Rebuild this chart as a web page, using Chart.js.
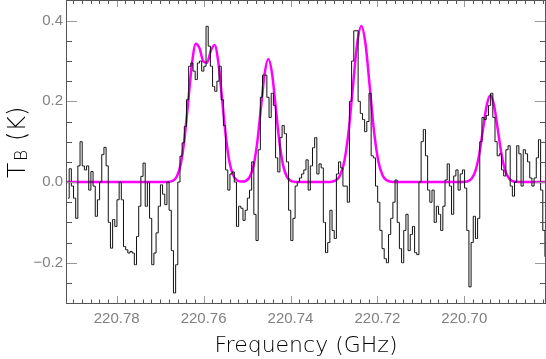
<!DOCTYPE html>
<html><head><meta charset="utf-8">
<script src="https://cdn.jsdelivr.net/npm/chart.js@4"></script>
<style>html,body{margin:0;padding:0;background:#fff}canvas{display:block}</style>
</head><body>
<canvas id="c" width="546" height="359"></canvas>
<script>
// ---- data ----
const startFreq = 220.79119;      // GHz, centre of first channel
const channelWidth = 0.0005;      // GHz per channel (frequency decreases)
const spectrumTB = [
 -0.04, 0.033, -0.01, -0.04, -0.09, 0.04, 0.10, 0.04, 0.03, 0.04,
 -0.02, 0.026, -0.01, -0.085, -0.044, 0.0, 0.068, 0.086, 0.04, -0.10,
 -0.164, -0.093, -0.11, -0.044, 0.0, -0.044, -0.16, -0.168, -0.176, -0.172,
 -0.176, -0.205, -0.135, -0.06, 0.014, 0.047, -0.06, 0.0, -0.09, -0.205,
 -0.176, -0.126, -0.06, -0.007, -0.03, -0.056, 0.0, -0.07, -0.17, -0.275,
 -0.205, 0.0, 0.064, 0.097, 0.138, 0.204, 0.287, 0.295, 0.275, 0.254,
 0.295, 0.30, 0.275, 0.287, 0.386, 0.337, 0.287, 0.237, 0.225, 0.25,
 0.287, 0.204, 0.14, 0.03, -0.02, 0.02, 0.025, 0.0, -0.11, -0.06,
 -0.065, -0.095, -0.07, -0.04, -0.02, 0.05, -0.08, -0.145, 0.08, 0.21,
 0.265, 0.265, 0.21, 0.16, 0.22, 0.19, 0.06, 0.025, 0.11, 0.14,
 0.12, 0.05, -0.07, -0.145, -0.09, -0.01, 0.0, 0.01, 0.02, 0.03,
 0.055, -0.02, 0.04, 0.085, 0.11, 0.02, 0.045, 0.035, -0.1, -0.175,
 -0.15, -0.07, -0.12, -0.14, 0.02, 0.05, 0.035, -0.01, -0.01, -0.05,
 0.2, 0.3, 0.375, 0.375, 0.2, 0.17, 0.155, 0.125, 0.15, 0.22,
 0.065, 0.06, -0.01, -0.05, -0.12, -0.165, -0.19, -0.2, -0.13, -0.09,
 -0.05, 0.005, -0.1, -0.165, -0.2, -0.12, -0.08, -0.17, -0.13, -0.11,
 -0.175, -0.18, 0.0, 0.1, 0.13, 0.065, -0.02, -0.05, -0.02, -0.1,
 -0.06, -0.08, -0.12, -0.06, 0.005, 0.045, -0.01, -0.08, 0.015, 0.03,
 -0.02, 0.02, 0.03, -0.015, -0.12, -0.26, -0.15, -0.085, -0.14, -0.09,
 0.1, 0.16, 0.155, 0.165, 0.19, 0.22, 0.16, 0.1, 0.065, 0.07,
 0.03, 0.015, 0.08, 0.09, -0.01, -0.035, 0.0, 0.09, 0.07, -0.01,
 0.08, 0.07, 0.05, 0.01, -0.01, 0.01, 0.06, 0.105, -0.02, -0.12,
 -0.185
];
const fitFreq = [
 220.7915,
 220.76872, 220.76786, 220.76699, 220.76613, 220.76526, 220.7644, 220.76353, 220.76267, 220.7618,
 220.76094, 220.76007, 220.75921, 220.75834, 220.75748, 220.75661, 220.75575, 220.75488, 220.75402,
 220.75315, 220.75229, 220.75142,
 220.75105, 220.7502, 220.74935, 220.7485, 220.74765, 220.7468, 220.74595, 220.7451,
 220.74425, 220.7434, 220.74255, 220.7417, 220.74085, 220.74, 220.73915, 220.7383,
 220.7315, 220.73053, 220.72955, 220.72858, 220.7276, 220.72663, 220.72565, 220.72468, 220.7237,
 220.72273, 220.72175, 220.72078, 220.7198, 220.71883, 220.71785, 220.71688, 220.7159,
 220.7008, 220.69995, 220.6991, 220.69825, 220.6974, 220.69655, 220.6957, 220.69485, 220.694,
 220.69315, 220.6923, 220.69145, 220.6906, 220.68975, 220.6889, 220.68805, 220.6872,
 220.6814
];
const fitTB = [
 0,
 0.0001, 0.0007, 0.0037, 0.0145, 0.0447, 0.1073, 0.2007, 0.2944, 0.3428,
 0.3315, 0.2990, 0.2958, 0.3252, 0.3395, 0.2965, 0.2063, 0.1126, 0.0479,
 0.0159, 0.0041, 0.0011,
 0.0011, 0.0035, 0.0134, 0.0413, 0.0990, 0.1850, 0.2692, 0.305,
 0.2692, 0.1850, 0.0990, 0.0413, 0.0134, 0.0034, 0.0007, 0.0001,
 0.0001, 0.0009, 0.0043, 0.0170, 0.0524, 0.1257, 0.2347, 0.3415, 0.387,
 0.3415, 0.2347, 0.1257, 0.0524, 0.0170, 0.0043, 0.0009, 0.0001,
 0.0001, 0.0005, 0.0024, 0.0094, 0.0291, 0.0698, 0.1304, 0.1897, 0.215,
 0.1897, 0.1304, 0.0698, 0.0291, 0.0094, 0.0024, 0.0005, 0.0001,
 0
];
const xTickValues = [220.78, 220.76, 220.74, 220.72, 220.70];
const yTickValues = [-0.2, 0.0, 0.2, 0.4];
const xMinorStep = 0.002;
const yMinorStep = 0.05;
const xRange = [220.68143, 220.79144];
const yRange = [-0.2999, 0.4488];

// ---- plugins ----
const frameTicks = {
  id: 'frameTicks',
  afterDraw(chart) {
    const {ctx, chartArea: {left, right, top, bottom}, scales: {x, y}} = chart;
    ctx.save();
    ctx.lineWidth = 1;
    const isMajor = (v, list) => list.some(m => Math.abs(m - v) < 1e-7);
    for (let k = Math.ceil(xRange[0] / xMinorStep - 1e-6); k * xMinorStep <= xRange[1] + 1e-9; k++) {
      const v = k * xMinorStep;
      const major = isMajor(v, xTickValues);
      const px = Math.round(x.getPixelForValue(v)) + 0.5;
      ctx.strokeStyle = major ? '#9a9a9a' : '#555';
      ctx.beginPath();
      ctx.moveTo(px, bottom); ctx.lineTo(px, bottom - (major ? 7 : 3.5));
      ctx.moveTo(px, top); ctx.lineTo(px, top + (major ? 6 : 3));
      ctx.stroke();
    }
    for (let k = Math.ceil(yRange[0] / yMinorStep - 1e-6); k * yMinorStep <= yRange[1] + 1e-9; k++) {
      const v = k * yMinorStep;
      const major = isMajor(v, yTickValues);
      const py = Math.round(y.getPixelForValue(v)) + 0.5;
      ctx.strokeStyle = major ? '#9a9a9a' : '#555';
      ctx.beginPath();
      ctx.moveTo(left, py); ctx.lineTo(left + (major ? 10 : 5), py);
      ctx.moveTo(right, py); ctx.lineTo(right - (major ? 10 : 5), py);
      ctx.stroke();
    }
    ctx.strokeStyle = '#555';
    ctx.strokeRect(left - 0.5, top - 0.5, right - left + 1, bottom - top + 1);
    // y axis title with subscript
    ctx.fillStyle = '#000';
    ctx.textBaseline = 'alphabetic';
    ctx.textAlign = 'left';
    ctx.translate(25, 0);
    ctx.rotate(-Math.PI / 2);
    ctx.font = '200 25px "DejaVu Sans", sans-serif';
    ctx.fillText('T', -178, 0);
    ctx.font = '200 17px "DejaVu Sans", sans-serif';
    ctx.fillText('B', -161, 2);
    ctx.font = '200 24px "DejaVu Sans", sans-serif';
    ctx.fillText('(K)', -141, 0);
    ctx.restore();
  }
};

new Chart(document.getElementById('c'), {
  type: 'line',
  data: {
    datasets: [
      {
        label: 'spectrum',
        data: spectrumTB.map((v, i) => ({x: startFreq - i * channelWidth, y: v})),
        stepped: 'middle',
        borderColor: '#111',
        borderWidth: 1,
        pointRadius: 0,
        fill: false,
        order: 0,
        clip: 0
      },
      {
        label: 'fit',
        data: fitFreq.map((f, i) => ({x: f, y: fitTB[i]})),
        borderColor: '#ff00ff',
        borderWidth: 2.5,
        pointRadius: 0,
        cubicInterpolationMode: 'monotone',
        fill: false,
        order: 1,
        clip: 0
      }
    ]
  },
  options: {
    responsive: false,
    animation: false,
    devicePixelRatio: 1,
    layout: {padding: {top: 1, right: 1, left: 0, bottom: 0}},
    plugins: {legend: {display: false}, tooltip: {enabled: false}},
    scales: {
      x: {
        type: 'linear', reverse: true, min: xRange[0], max: xRange[1],
        afterBuildTicks: s => { s.ticks = xTickValues.map(v => ({value: v})); },
        afterFit: s => { s.height = 56; s.paddingLeft = 0; s.paddingRight = 0; },
        grid: {display: false, drawTicks: false},
        border: {display: false},
        ticks: {autoSkip: false, maxRotation: 0, padding: 7, color: '#808080',
          font: {family: 'Liberation Sans', size: 15},
          callback: v => Number(v).toFixed(2)},
        title: {display: true, text: 'Frequency (GHz)', color: '#000',
          font: {family: 'DejaVu Sans', size: 22, weight: '200', lineHeight: 1.2},
          padding: {top: 0, bottom: 0}}
      },
      y: {
        type: 'linear', min: yRange[0], max: yRange[1],
        afterBuildTicks: s => { s.ticks = yTickValues.map(v => ({value: v})); },
        afterFit: s => { s.width = 67; s.paddingTop = 0; s.paddingBottom = 0; },
        grid: {display: false, drawTicks: false},
        border: {display: false},
        ticks: {autoSkip: false, padding: 4, color: '#808080',
          font: {family: 'Liberation Sans', size: 15},
          callback: v => (v < 0 ? '\u2212' : '') + Math.abs(v).toFixed(1)}
      }
    }
  },
  plugins: [frameTicks]
});
</script>
</body></html>
